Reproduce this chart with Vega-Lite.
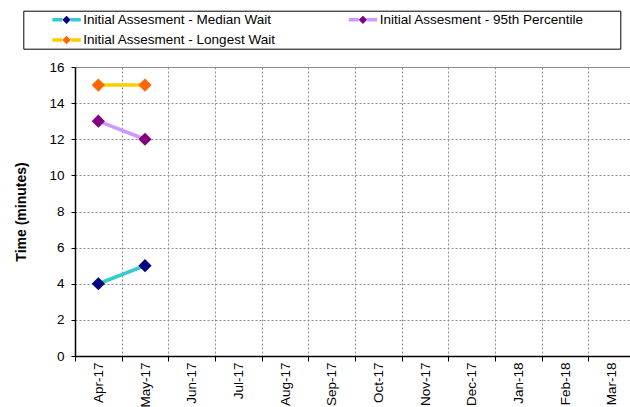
{
  "$schema": "https://vega.github.io/schema/vega-lite/v6.json",
  "width": 555,
  "height": 289,
  "autosize": {"type": "none"},
  "padding": {"left": 75, "top": 67, "right": 0, "bottom": 51},
  "background": "white",
  "config": {"view": {"stroke": null}, "font": "Liberation Sans"},
  "data": {
    "values": [
      {"month": "Apr-17", "series": "Initial Assesment - Median Wait", "value": 4},
      {"month": "May-17", "series": "Initial Assesment - Median Wait", "value": 5},
      {"month": "Apr-17", "series": "Initial Assesment - 95th Percentile", "value": 13},
      {"month": "May-17", "series": "Initial Assesment - 95th Percentile", "value": 12},
      {"month": "Apr-17", "series": "Initial Assesment - Longest Wait", "value": 15},
      {"month": "May-17", "series": "Initial Assesment - Longest Wait", "value": 15}
    ]
  },
  "encoding": {
    "x": {
      "field": "month",
      "type": "ordinal",
      "scale": {
        "type": "band",
        "domain": ["Apr-17", "May-17", "Jun-17", "Jul-17", "Aug-17", "Sep-17", "Oct-17", "Nov-17", "Dec-17", "Jan-18", "Feb-18", "Mar-18"],
        "range": [0, 560],
        "paddingInner": 0,
        "paddingOuter": 0
      },
      "axis": {
        "title": null,
        "tickBand": "extent",
        "labelAngle": 270,
        "labelFont": "Liberation Sans",
        "labelFontSize": 13.5,
        "labelColor": "black",
        "labelPadding": 1,
        "labelOverlap": false,
        "tickSize": 5,
        "tickColor": "black",
        "domainColor": "black",
        "domainWidth": 1.5,
        "grid": true,
        "gridColor": "#8c8c8c",
        "gridDash": [2, 2]
      }
    },
    "y": {
      "field": "value",
      "type": "quantitative",
      "scale": {"domain": [0, 16]},
      "axis": {
        "title": "Time (minutes)",
        "values": [0, 2, 4, 6, 8, 10, 12, 14, 16],
        "titleFont": "Liberation Sans",
        "titleFontSize": 14,
        "titleFontWeight": "bold",
        "titleColor": "black",
        "titlePadding": 20,
        "labelFont": "Liberation Sans",
        "labelFontSize": 13.5,
        "labelColor": "black",
        "labelPadding": 7,
        "tickSize": 4,
        "tickColor": "black",
        "domainColor": "black",
        "domainWidth": 1.5,
        "grid": true,
        "gridColor": "#8c8c8c",
        "gridDash": {"condition": {"test": "datum.value === 16", "value": []}, "value": [2, 2]}
      }
    }
  },
  "layer": [
    {
      "mark": {"type": "line", "strokeWidth": 3.5},
      "encoding": {
        "stroke": {
          "field": "series",
          "type": "nominal",
          "scale": {
            "domain": ["Initial Assesment - Median Wait", "Initial Assesment - Longest Wait", "Initial Assesment - 95th Percentile"],
            "range": ["#33CCCC", "#FFCC00", "#CC99FF"]
          },
          "legend": {
            "orient": "none",
            "legendX": -51.7,
            "legendY": -56.3,
            "title": " ",
            "titleOrient": "left",
            "titlePadding": 26.5,
            "titleFontSize": 13.5,
            "titleColor": "transparent",
            "columns": 2,
            "columnPadding": 70.4,
            "rowPadding": 5.6,
            "padding": 2,
            "strokeColor": "black",
            "symbolType": "M-3.55,0L-1.05,0L0,-1.05L1.05,0L3.55,0L1.05,0L0,1.05L-1.05,0Z",
            "symbolDash": [10, 11.88, 20, 11.88, 10, 100],
            "symbolSize": 64,
            "symbolStrokeWidth": 3.5,
            "symbolOffset": 8,
            "labelFont": "Liberation Sans",
            "labelFontSize": 13.5,
            "labelColor": "black",
            "labelOffset": 10,
            "labelLimit": 0,
            "labelExpr": "datum.label + (indexof(datum.label, '95th') >= 0 ? '         \u00ad' : '')",
            "encode": {"symbols": {"update": {"strokeJoin": {"value": "bevel"}}}},
            "zindex": 0
          }
        }
      }
    },
    {
      "mark": {"type": "point", "shape": "diamond", "filled": true, "size": 175, "opacity": 1},
      "encoding": {
        "fill": {
          "field": "series",
          "type": "nominal",
          "scale": {
            "domain": ["Initial Assesment - Median Wait", "Initial Assesment - Longest Wait", "Initial Assesment - 95th Percentile"],
            "range": ["#000080", "#FF6600", "#800080"]
          },
          "legend": {
            "orient": "none",
            "legendX": -51.7,
            "legendY": -56.3,
            "title": " ",
            "titleOrient": "left",
            "titlePadding": 26.5,
            "titleFontSize": 13.5,
            "titleColor": "transparent",
            "columns": 2,
            "columnPadding": 70.4,
            "rowPadding": 5.6,
            "padding": 2,
            "strokeColor": "black",
            "symbolType": "M-3.55,0L-1.05,0L0,-1.05L1.05,0L3.55,0L1.05,0L0,1.05L-1.05,0Z",
            "symbolDash": [10, 11.88, 20, 11.88, 10, 100],
            "symbolSize": 64,
            "symbolStrokeWidth": 3.5,
            "symbolOffset": 8,
            "labelFont": "Liberation Sans",
            "labelFontSize": 13.5,
            "labelColor": "black",
            "labelOffset": 10,
            "labelLimit": 0,
            "labelExpr": "datum.label + (indexof(datum.label, '95th') >= 0 ? '         \u00ad' : '')",
            "encode": {"symbols": {"update": {"strokeJoin": {"value": "bevel"}}}},
            "zindex": 0
          }
        }
      }
    }
  ]
}
